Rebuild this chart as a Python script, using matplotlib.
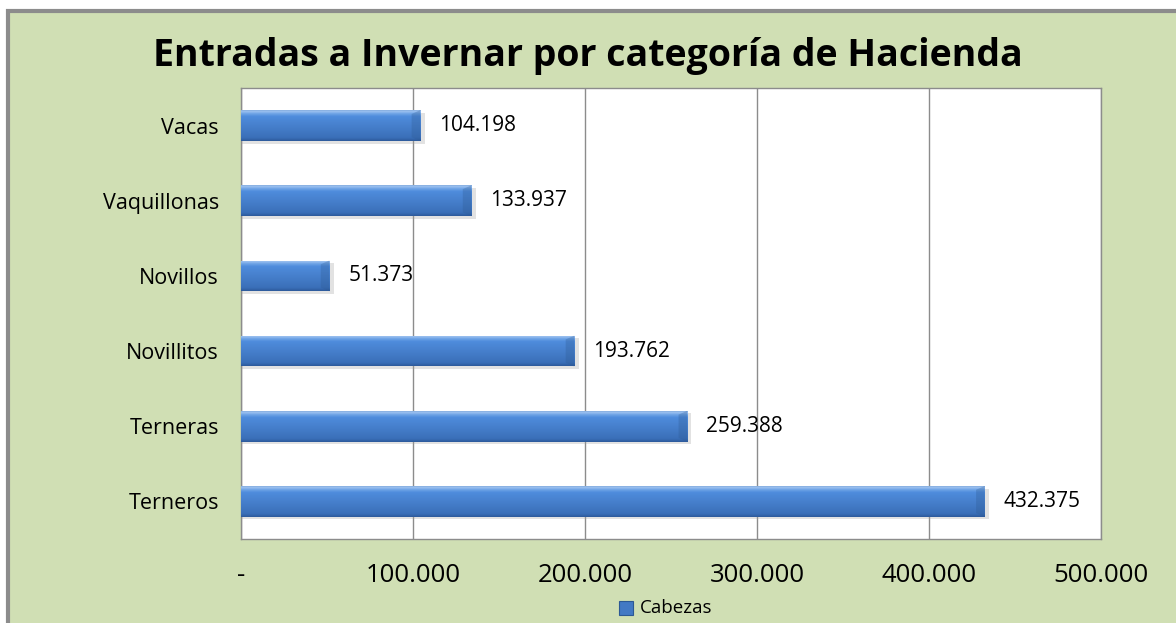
import numpy as np
import matplotlib
matplotlib.use("Agg")
import matplotlib.pyplot as plt
from matplotlib.patches import Rectangle
from matplotlib.colors import LinearSegmentedColormap

# Datos del gráfico
categorias = ["Terneros", "Terneras", "Novillitos", "Novillos", "Vaquillonas", "Vacas"]
cabezas = [432375, 259388, 193762, 51373, 133937, 104198]
etiquetas = ["432.375", "259.388", "193.762", "51.373", "133.937", "104.198"]

ticks_x = [0, 100000, 200000, 300000, 400000, 500000]
ticks_x_etiquetas = ["-", "100.000", "200.000", "300.000", "400.000", "500.000"]

VERDE = "#D0DFB4"
GRIS = "#8C8C8C"

plt.rcParams["font.family"] = ["Open Sans", "DejaVu Sans"]

fig = plt.figure(figsize=(11.76, 6.23), dpi=100)
fig.patch.set_facecolor("white")

# Fondo verde del área del gráfico con borde gris
fondo = Rectangle((8 / 1176, -0.05), 1.2, 1 - 11 / 623 + 0.05,
                  transform=fig.transFigure, facecolor=VERDE,
                  edgecolor=GRIS, linewidth=3, zorder=-10)
fig.patches.append(fondo)

ax = fig.add_axes([241 / 1176, 1 - 539 / 623, 860 / 1176, 451 / 623])
ax.set_facecolor("white")

y = np.arange(len(categorias))
alto = 0.41

# Degradado vertical para dar efecto 3D a las barras (de abajo hacia arriba)
cmap = LinearSegmentedColormap.from_list(
    "azul", [(0.0, "#2D5A9C"), (0.1, "#3A6FB8"), (0.5, "#4780CD"),
             (0.8, "#4E8CDC"), (0.9, "#73A6E7"), (0.96, "#9CC2F0"),
             (1.0, "#86AEE0")])
grad = np.linspace(0, 1, 64).reshape(-1, 1)

for yi, v in zip(y, cabezas):
    # sombra
    ax.barh(yi - 0.035, v + 2500, height=alto, left=0, color="#A0A0A0",
            alpha=0.3, zorder=2, linewidth=0)
    barra = ax.barh(yi, v, height=alto, color="#4F81BD", zorder=3,
                    linewidth=0)[0]
    img = ax.imshow(grad, cmap=cmap, aspect="auto", origin="lower",
                    extent=[0, v, yi - alto / 2, yi + alto / 2], zorder=4)
    img.set_clip_path(barra)
    # extremo biselado
    ax.fill([v - 5000, v, v, v - 5000],
            [yi + alto / 2 - 0.05, yi + alto / 2, yi - alto / 2, yi - alto / 2 + 0.05],
            color="#2E5A92", alpha=0.3, zorder=5, linewidth=0)

for yi, v, t in zip(y, cabezas, etiquetas):
    ax.text(v + 11000, yi, t, va="center", ha="left", fontsize=15,
            color="black", zorder=6)

ax.set_xlim(0, 500000)
ax.set_ylim(-0.5, len(categorias) - 0.5)
ax.set_xticks(ticks_x)
ax.set_xticklabels(ticks_x_etiquetas, fontsize=18.5)
ax.set_yticks(y)
ax.set_yticklabels(categorias, fontsize=15.5)
ax.tick_params(axis="x", length=0, pad=17)
ax.tick_params(axis="y", length=0, pad=16)

ax.grid(axis="x", color=GRIS, linewidth=1, zorder=1)
ax.set_axisbelow(True)
for s in ax.spines.values():
    s.set_color(GRIS)
    s.set_linewidth(1)

fig.text(0.5, 1 - 56 / 623, "Entradas a Invernar por categoría de Hacienda",
         ha="center", va="center", fontsize=27, fontweight="bold")

# Leyenda
fig.patches.append(Rectangle((619 / 1176, 1 - 615 / 623), 14 / 1176, 14 / 623,
                             transform=fig.transFigure, facecolor="#4279C4",
                             edgecolor="#2C5994", linewidth=0.8))
fig.text(640 / 1176, 1 - 608 / 623, "Cabezas", ha="left", va="center",
         fontsize=13.5)

fig.savefig("out.png", dpi=100, facecolor=fig.get_facecolor())
